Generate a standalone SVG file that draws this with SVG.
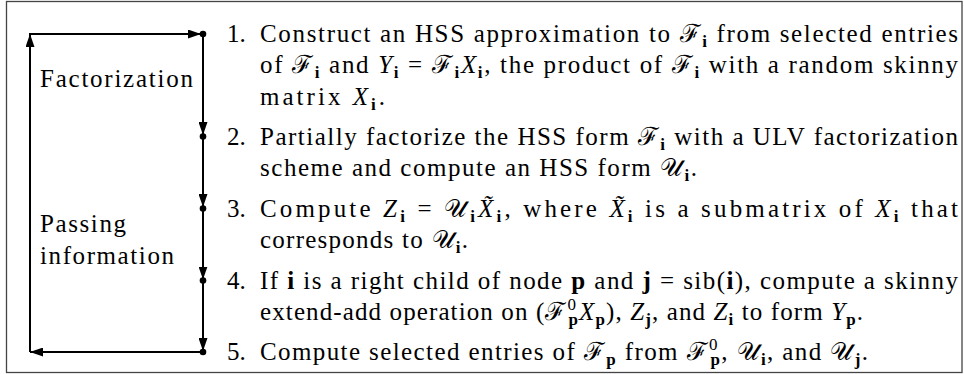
<svg xmlns="http://www.w3.org/2000/svg" width="964" height="374" viewBox="0 0 964 374">
<defs>
<style>
.it{font-style:italic}
.bf{font-weight:bold}
.s{font-size:17px;font-weight:bold}
.sp{font-size:17px}
.ln{fill:none;stroke:#000;stroke-width:2}
.dot{fill:#000}
</style>
<marker id="ah" viewBox="0 0 13 9" refX="13" refY="4.5" markerWidth="13" markerHeight="9" markerUnits="userSpaceOnUse" orient="auto">
<path d="M0,0 L13,4.5 L0,9 Z" fill="#000"/>
</marker>
</defs>
<rect x="6.5" y="1.5" width="955.5" height="371" fill="#fff" stroke="#444" stroke-width="1.3"/>

<g id="connectors">
<path class="ln" d="M30,352 L30,34" marker-end="url(#ah)"/>
<path class="ln" d="M29,34 L201,34" marker-end="url(#ah)"/>
<path class="ln" d="M203,352 L30,352" marker-end="url(#ah)"/>
<path class="ln" d="M203,34 L203,135" marker-end="url(#ah)"/>
<path class="ln" d="M203,136 L203,207" marker-end="url(#ah)"/>
<path class="ln" d="M203,208 L203,279.5" marker-end="url(#ah)"/>
<path class="ln" d="M203,280 L203,351" marker-end="url(#ah)"/>
</g>

<g id="phase-labels">
<text x="40" y="87" font-family="Liberation Serif" font-size="25" textLength="153" lengthAdjust="spacing">Factorization</text>
<text x="40" y="232" font-family="Liberation Serif" font-size="25" textLength="86" lengthAdjust="spacing">Passing</text>
<text x="40" y="263.5" font-family="Liberation Serif" font-size="25" textLength="134" lengthAdjust="spacing">information</text>
</g>

<g id="step1">
<circle class="dot" cx="203" cy="34" r="3.3"/>
<text x="227" y="42" font-family="Liberation Serif" font-size="25">1.</text>
<text x="260" y="42" font-family="Liberation Serif" font-size="25" textLength="698" lengthAdjust="spacing">Construct an HSS approximation to ℱ<tspan class="s" dy="5">i</tspan><tspan dy="-5"> from selected entries</tspan></text>
<text x="260" y="73.3" font-family="Liberation Serif" font-size="25" textLength="698" lengthAdjust="spacing">of ℱ<tspan class="s" dy="5">i</tspan><tspan dy="-5"> and </tspan><tspan class="it">Y</tspan><tspan class="s" dy="5">i</tspan><tspan dy="-5"> = ℱ</tspan><tspan class="s" dy="5">i</tspan><tspan class="it" dy="-5">X</tspan><tspan class="s" dy="5">i</tspan><tspan dy="-5">, the product of ℱ</tspan><tspan class="s" dy="5">i</tspan><tspan dy="-5"> with a random skinny</tspan></text>
<text x="260" y="104.6" font-family="Liberation Serif" font-size="25" textLength="125" lengthAdjust="spacing">matrix <tspan class="it">X</tspan><tspan class="s" dy="5">i</tspan><tspan dy="-5">.</tspan></text>
</g>

<g id="step2">
<circle class="dot" cx="203" cy="136.5" r="3.3"/>
<text x="227" y="144.5" font-family="Liberation Serif" font-size="25">2.</text>
<text x="260" y="144.5" font-family="Liberation Serif" font-size="25" textLength="698" lengthAdjust="spacing">Partially factorize the HSS form ℱ<tspan class="s" dy="5">i</tspan><tspan dy="-5"> with a ULV factorization</tspan></text>
<text x="260" y="175.8" font-family="Liberation Serif" font-size="25" textLength="437" lengthAdjust="spacing">scheme and compute an HSS form 𝒰<tspan class="s" dy="5">i</tspan><tspan dy="-5">.</tspan></text>
</g>

<g id="step3">
<circle class="dot" cx="203" cy="208.5" r="3.3"/>
<text x="227" y="216.5" font-family="Liberation Serif" font-size="25">3.</text>
<text x="260" y="216.5" font-family="Liberation Serif" font-size="25" textLength="698" lengthAdjust="spacing">Compute <tspan class="it">Z</tspan><tspan class="s" dy="5">i</tspan><tspan dy="-5"> = 𝒰</tspan><tspan class="s" dy="5">i</tspan><tspan class="it" dy="-5">X̃</tspan><tspan class="s" dy="5">i</tspan><tspan dy="-5">, where </tspan><tspan class="it">X̃</tspan><tspan class="s" dy="5">i</tspan><tspan dy="-5"> is a submatrix of </tspan><tspan class="it">X</tspan><tspan class="s" dy="5">i</tspan><tspan dy="-5"> that</tspan></text>
<text x="260" y="247.8" font-family="Liberation Serif" font-size="25" textLength="208" lengthAdjust="spacing">corresponds to 𝒰<tspan class="s" dy="5">i</tspan><tspan dy="-5">.</tspan></text>
</g>

<g id="step4">
<circle class="dot" cx="203" cy="280.5" r="3.3"/>
<text x="227" y="288.5" font-family="Liberation Serif" font-size="25">4.</text>
<text x="260" y="288.5" font-family="Liberation Serif" font-size="25" textLength="698" lengthAdjust="spacing">If <tspan class="bf">i</tspan> is a right child of node <tspan class="bf">p</tspan> and <tspan class="bf">j</tspan> = sib(<tspan class="bf">i</tspan>), compute a skinny</text>
<text x="260" y="319.8" font-family="Liberation Serif" font-size="25" textLength="603" lengthAdjust="spacing">extend-add operation on (ℱ<tspan class="sp" dy="-10">0</tspan><tspan class="s" dx="-8.5" dy="15">p</tspan><tspan class="it" dy="-5">X</tspan><tspan class="s" dy="5">p</tspan><tspan dy="-5">), </tspan><tspan class="it">Z</tspan><tspan class="s" dy="5">j</tspan><tspan dy="-5">, and </tspan><tspan class="it">Z</tspan><tspan class="s" dy="5">i</tspan><tspan dy="-5"> to form </tspan><tspan class="it">Y</tspan><tspan class="s" dy="5">p</tspan><tspan dy="-5">.</tspan></text>
</g>

<g id="step5">
<circle class="dot" cx="203" cy="352" r="3.3"/>
<text x="227" y="360" font-family="Liberation Serif" font-size="25">5.</text>
<text x="260" y="360" font-family="Liberation Serif" font-size="25" textLength="608" lengthAdjust="spacing">Compute selected entries of ℱ<tspan class="s" dy="5">p</tspan><tspan dy="-5"> from ℱ</tspan><tspan class="sp" dy="-10">0</tspan><tspan class="s" dx="-8.5" dy="15">p</tspan><tspan dy="-5">, 𝒰</tspan><tspan class="s" dy="5">i</tspan><tspan dy="-5">, and 𝒰</tspan><tspan class="s" dy="5">j</tspan><tspan dy="-5">.</tspan></text>
</g>
</svg>
